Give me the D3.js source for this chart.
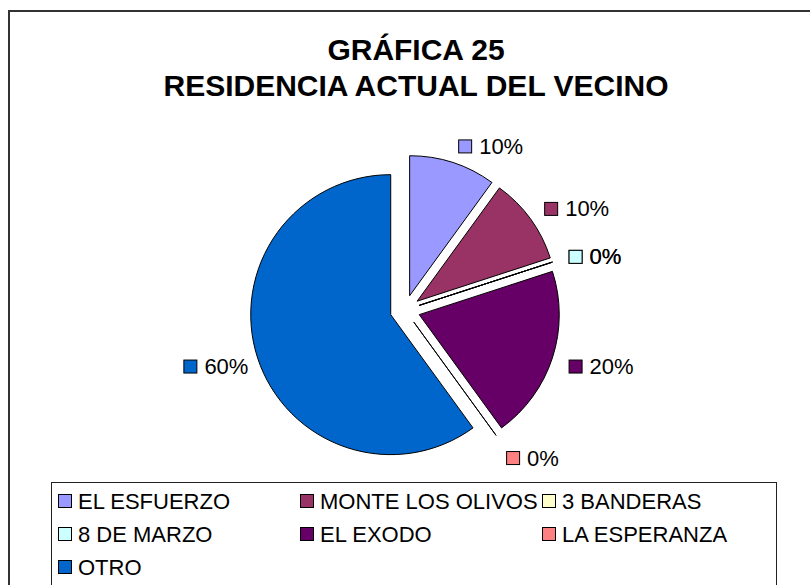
<!DOCTYPE html>
<html>
<head>
<meta charset="utf-8">
<script src="https://cdn.jsdelivr.net/npm/d3@7"></script>
<style>
  body { margin: 0; background: #fff; }
  svg { display: block; font-family: "Liberation Sans", Arial, sans-serif; }
</style>
</head>
<body>
<svg width="810" height="585"></svg>
<script>
"use strict";

var titleLines = ["GRÁFICA 25", "RESIDENCIA ACTUAL DEL VECINO"];
var categories = ["EL ESFUERZO", "MONTE LOS OLIVOS", "3 BANDERAS", "8 DE MARZO", "EL EXODO", "LA ESPERANZA", "OTRO"];
var values = [10, 10, 0, 0, 20, 0, 60];
var colors = ["#9999FF", "#993366", "#FFFFCC", "#CCFFFF", "#660066", "#FF8080", "#0066CC"];

var svg = d3.select("svg"),
    width = +svg.attr("width"),
    height = +svg.attr("height");

var cx = 405, cy = 310, radius = 140, explode = 15, labelRadius = 172;

// chart frame (runs off the right and bottom edge like the source)
svg.append("rect")
  .attr("x", 9).attr("y", 11)
  .attr("width", width + 10).attr("height", height + 10)
  .attr("fill", "#fff")
  .attr("stroke", "#333")
  .attr("stroke-width", 2);

svg.append("g").selectAll("text").data(titleLines).enter().append("text")
  .attr("x", 416)
  .attr("y", function (d, i) { return 60 + i * 36; })
  .attr("text-anchor", "middle")
  .attr("font-size", 30)
  .attr("font-weight", "bold")
  .text(function (d) { return d; });

var data = categories.map(function (c, i) {
  return { name: c, value: values[i], color: colors[i] };
});

var pie = d3.pie().sort(null).value(function (d) { return d.value; });
var arcs = pie(data);

var arc = d3.arc().innerRadius(0).outerRadius(radius);

function dir(d) {
  var a = (d.startAngle + d.endAngle) / 2;
  return [Math.sin(a), -Math.cos(a)];
}

var total = d3.sum(values);
var pct = d3.format(".0%");

var g = svg.append("g").attr("transform", "translate(" + cx + "," + cy + ")");

g.selectAll("path").data(arcs).enter().append("path")
  .attr("d", arc)
  .attr("transform", function (d) {
    var v = dir(d);
    return "translate(" + (v[0] * explode) + "," + (v[1] * explode) + ")";
  })
  .attr("fill", function (d) { return d.data.color; })
  .attr("stroke", "#000")
  .attr("stroke-width", 1)
  .attr("stroke-linejoin", "round");

// data labels: a colour key plus the percentage
var labels = g.selectAll("g.label").data(arcs).enter().append("g").attr("class", "label");

labels.each(function (d) {
  var v = dir(d);
  var px = v[0] * labelRadius, py = v[1] * labelRadius;
  var yMid = py + Math.max(0, v[1]) * 11;
  var el = d3.select(this);
  var t = el.append("text")
    .attr("font-size", 22)
    .attr("dominant-baseline", "central")
    .attr("y", yMid)
    .text(pct(d.data.value / total));
  var w = t.node().getComputedTextLength();
  var x0 = v[0] >= 0 ? px : px + 7 - w - 21;
  t.attr("x", x0 + 21);
  el.insert("rect", "text")
    .attr("x", x0 + 0.5).attr("y", yMid - 6.5)
    .attr("width", 13).attr("height", 13)
    .attr("fill", d.data.color)
    .attr("stroke", "#000");
});

// legend
var legend = svg.append("g");
legend.append("rect")
  .attr("x", 51.5).attr("y", 482.5)
  .attr("width", 725).attr("height", 120)
  .attr("fill", "#fff")
  .attr("stroke", "#222");

var colX = [58, 300, 542], rowY = [501, 534, 567];

var item = legend.selectAll("g.item").data(data).enter().append("g")
  .attr("class", "item")
  .attr("transform", function (d, i) {
    return "translate(" + colX[i % 3] + "," + rowY[Math.floor(i / 3)] + ")";
  });

item.append("rect")
  .attr("x", 0.5).attr("y", -6.5)
  .attr("width", 13).attr("height", 13)
  .attr("fill", function (d) { return d.color; })
  .attr("stroke", "#000");

item.append("text")
  .attr("x", 20)
  .attr("dominant-baseline", "central")
  .attr("font-size", 22)
  .text(function (d) { return d.name; });
</script>
</body>
</html>
